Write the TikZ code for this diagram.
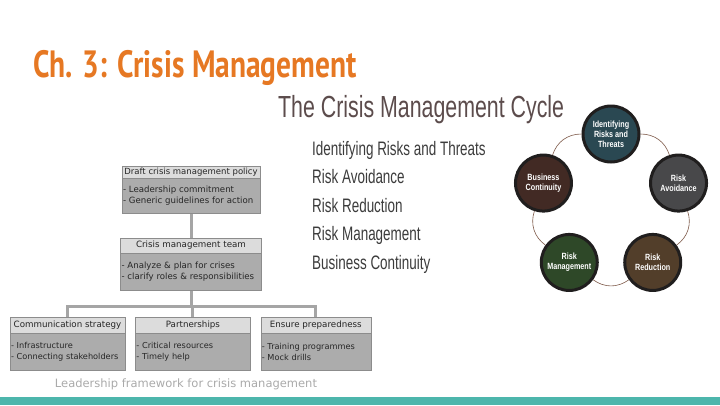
\documentclass[tikz,border=0pt]{standalone}
\usepackage{fontspec}
\usepackage{tikz}
\usetikzlibrary{positioning,calc}
\setmainfont{DejaVu Sans}
\newfontfamily\chapfont[FakeStretch=0.775]{PT Sans}
\newfontfamily\cyclefont[FakeStretch=0.70]{Liberation Sans}
\newfontfamily\listfont[FakeStretch=0.69]{Liberation Sans}
\newfontfamily\ringfont[FakeStretch=0.8]{Liberation Sans}
\definecolor{chaporange}{RGB}{230,120,35}
\definecolor{barteal}{RGB}{77,182,172}
\definecolor{boxbody}{RGB}{172,172,172}
\definecolor{boxhead}{RGB}{220,220,220}
\definecolor{boxedge}{RGB}{140,140,140}
\definecolor{connline}{RGB}{165,165,165}
\definecolor{capgray}{RGB}{170,170,170}
\definecolor{cycletitle}{RGB}{92,76,76}
\definecolor{cycletext}{RGB}{60,60,60}
\definecolor{ringedge}{RGB}{32,30,30}
\definecolor{ringarc}{RGB}{125,88,72}
\definecolor{idcol}{RGB}{42,72,82}
\definecolor{avoidcol}{RGB}{72,72,74}
\definecolor{reducecol}{RGB}{82,62,42}
\definecolor{managecol}{RGB}{46,72,40}
\definecolor{contcol}{RGB}{66,42,36}
\begin{document}
\begin{tikzpicture}[
  x=1pt, y=1pt,
  head/.style={rectangle, draw=boxedge, fill=boxhead, inner sep=0pt, text=black!85, font=\fontsize{8.7}{10}\selectfont},
  body/.style={rectangle, draw=boxedge, fill=boxbody, inner xsep=1pt, inner ysep=0pt, align=left, text=black!85, font=\fontsize{8.6}{11}\selectfont},
  lowbody/.style={body, font=\fontsize{8.2}{11}\selectfont},
  conn/.style={draw=connline, line width=3pt},
  ringnode/.style={circle, draw=ringedge, line width=3pt, minimum size=56pt, inner sep=0pt, text=white, align=center, font=\ringfont\bfseries\fontsize{9}{10}\selectfont},
  ringlink/.style={draw=ringarc, line width=0.6pt, bend left=36},
  listitem/.style={anchor=base west, inner sep=0pt, text=cycletext, font=\listfont\fontsize{19.5}{20}\selectfont}
]
\useasboundingbox (0,0) rectangle (720,-405);
\fill[white] (0,0) rectangle (720,-405);
\fill[barteal] (0,-397) rectangle (720,-405);

% Title
\node[anchor=base west, inner sep=0pt, text=chaporange, font=\chapfont\bfseries\fontsize{38}{40}\selectfont] (chap) at (33,-77) {Ch. 3: Crisis Management};

% Leadership framework (left)
\node[head, minimum width=138pt, minimum height=12pt, anchor=north, font=\fontsize{8.5}{9}\selectfont] (policyhead) at (191,-166) {Draft crisis management policy};
\node[body, text width=136pt, minimum height=35pt, below=0pt of policyhead] (policybody) {- Leadership commitment\\- Generic guidelines for action};

\node[head, minimum width=141pt, minimum height=15pt, below=24pt of policybody] (teamhead) {Crisis management team};
\node[body, text width=139pt, minimum height=37pt, below=0pt of teamhead] (teambody) {- Analyze \& plan for crises\\- clarify roles \& responsibilities};

\node[head, minimum width=115pt, minimum height=16pt, anchor=north] (commhead) at (67.5,-317) {Communication strategy};
\node[lowbody, text width=113pt, minimum height=37pt, below=0pt of commhead] (commbody) {- Infrastructure\\- Connecting stakeholders};
\node[head, minimum width=115pt, minimum height=16pt, right=10pt of commhead] (parthead) {Partnerships};
\node[lowbody, text width=113pt, minimum height=37pt, below=0pt of parthead] (partbody) {- Critical resources\\- Timely help};
\node[head, minimum width=110pt, minimum height=16pt, right=10pt of parthead] (prephead) {Ensure preparedness};
\node[lowbody, text width=108pt, minimum height=37pt, below=0pt of prephead] (prepbody) {- Training programmes\\- Mock drills};

\coordinate[below=16pt of teambody] (busbar);
\draw[conn] (policybody) -- (teamhead);
\draw[conn] (teambody) -- (busbar);
\draw[conn] (commhead) |- (busbar) -| (prephead);
\draw[conn] (parthead) -- (parthead |- busbar);

\node[anchor=base, text=capgray, font=\fontsize{11.5}{12}\selectfont] (caption) at (186,-387) {Leadership framework for crisis management};

% Crisis management cycle (right)
\node[anchor=base west, inner sep=0pt, text=cycletitle, font=\cyclefont\fontsize{30.5}{32}\selectfont] (cycletitle) at (278,-117) {The Crisis Management Cycle};
\node[listitem] (item1) at (312,-155) {Identifying Risks and Threats};
\node[listitem] (item2) at (312,-183.5) {Risk Avoidance};
\node[listitem] (item3) at (312,-212) {Risk Reduction};
\node[listitem] (item4) at (312,-240.5) {Risk Management};
\node[listitem] (item5) at (312,-269) {Business Continuity};

\coordinate (hub) at (611,-205);
\node[ringnode, fill=idcol] (identify) at ([shift={(90:71)}]hub) {Identifying\\Risks and\\Threats};
\node[ringnode, fill=avoidcol] (avoid) at ([shift={(18:71)}]hub) {Risk\\Avoidance};
\node[ringnode, fill=reducecol] (reduce) at ([shift={(-54:71)}]hub) {Risk\\Reduction};
\node[ringnode, fill=managecol] (manage) at ([shift={(-126:71)}]hub) {Risk\\Management};
\node[ringnode, fill=contcol] (continuity) at ([shift={(162:71)}]hub) {Business\\Continuity};
\draw[ringlink] (identify) to (avoid);
\draw[ringlink] (avoid) to (reduce);
\draw[ringlink] (reduce) to (manage);
\draw[ringlink] (manage) to (continuity);
\draw[ringlink] (continuity) to (identify);
\end{tikzpicture}
\end{document}
